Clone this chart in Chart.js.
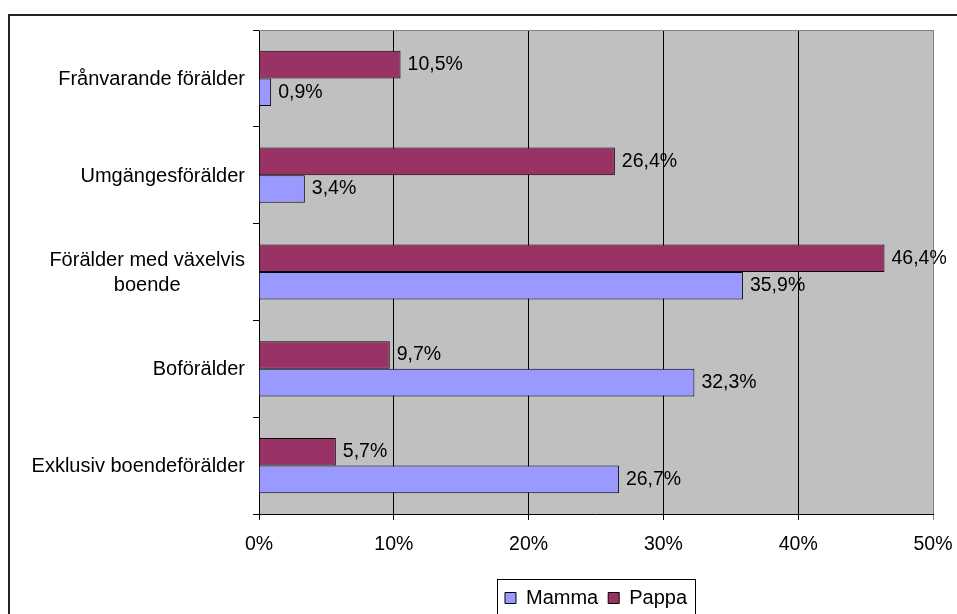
<!DOCTYPE html>
<html>
<head>
<meta charset="utf-8">
<script src="https://cdn.jsdelivr.net/npm/chart.js@4/dist/chart.umd.min.js"></script>
<style>
  html, body { margin: 0; padding: 0; background: #fff; }
  #wrap { width: 957px; height: 614px; position: relative; }
</style>
</head>
<body>
<div id="wrap"><canvas id="chart"></canvas></div>
<script>
// categories, top to bottom
const categories = [
  ['Frånvarande förälder'],
  ['Umgängesförälder'],
  ['Förälder med växelvis', 'boende'],
  ['Boförälder'],
  ['Exklusiv boendeförälder']
];
const pappaValues = [10.5, 26.4, 46.4, 9.7, 5.7];
const mammaValues = [0.9, 3.4, 35.9, 32.3, 26.7];
const xTicks = [0, 10, 20, 30, 40, 50];

const FONT = '"Liberation Sans", Arial, sans-serif';
const fmt = v => v.toFixed(1).replace('.', ',') + '%';

// gray plot area, its frame, the outer chart frame and the legend frame
const framePlugin = {
  id: 'frames',
  beforeDraw(chart) {
    const { ctx, chartArea: a } = chart;
    ctx.save();
    ctx.fillStyle = '#C0C0C0';
    ctx.fillRect(a.left, a.top, a.right - a.left, a.bottom - a.top);
    ctx.restore();
  },
  beforeDatasetsDraw(chart) {
    const { ctx, chartArea: a } = chart;
    ctx.save();
    ctx.strokeStyle = '#808080';
    ctx.lineWidth = 1;
    ctx.beginPath();
    ctx.moveTo(a.left, Math.round(a.top) + 0.5);
    ctx.lineTo(Math.round(a.right) + 0.5, Math.round(a.top) + 0.5);
    ctx.lineTo(Math.round(a.right) + 0.5, a.bottom);
    ctx.stroke();
    ctx.restore();
  },
  afterDraw(chart) {
    const ctx = chart.ctx;
    ctx.save();
    ctx.strokeStyle = '#222';
    ctx.lineWidth = 2;
    ctx.strokeRect(9, 15, 1200, 1200);
    const boxes = chart.legend.legendHitBoxes;
    if (boxes && boxes.length) {
      const left = Math.min(...boxes.map(b => b.left)) - 8;
      const right = Math.max(...boxes.map(b => b.left + b.width)) + 8;
      const top = boxes[0].top + boxes[0].height / 2 - 19;
      ctx.strokeStyle = '#000';
      ctx.lineWidth = 1;
      ctx.strokeRect(Math.round(left) + 0.5, Math.round(top) + 0.5, Math.round(right - left), 100);
    }
    ctx.restore();
  }
};

// category labels: right-aligned block, lines centred inside it
const yLabelPlugin = {
  id: 'yLabels',
  afterDraw(chart) {
    const { ctx } = chart;
    const y = chart.scales.y;
    const right = chart.chartArea.left - 14;
    ctx.save();
    ctx.font = '20px ' + FONT;
    ctx.fillStyle = '#000';
    ctx.textAlign = 'center';
    ctx.textBaseline = 'middle';
    categories.forEach((lines, i) => {
      const cy = y.getPixelForValue(i);
      const w = Math.max(...lines.map(l => ctx.measureText(l).width));
      const cx = right - w / 2;
      lines.forEach((l, j) => {
        ctx.fillText(l, cx, cy + 1 + (j - (lines.length - 1) / 2) * 25);
      });
    });
    ctx.restore();
  }
};

// value labels at the end of each bar
const valueLabelPlugin = {
  id: 'valueLabels',
  afterDatasetsDraw(chart) {
    const { ctx } = chart;
    ctx.save();
    ctx.font = '19.5px ' + FONT;
    ctx.fillStyle = '#000';
    ctx.textAlign = 'left';
    ctx.textBaseline = 'middle';
    chart.data.datasets.forEach((ds, di) => {
      chart.getDatasetMeta(di).data.forEach((el, i) => {
        ctx.fillText(fmt(ds.data[i]), el.x + 7, el.y);
      });
    });
    ctx.restore();
  }
};

Chart.defaults.font.family = FONT;
Chart.defaults.font.size = 20;
Chart.defaults.color = '#000';

new Chart(document.getElementById('chart'), {
  type: 'bar',
  data: {
    labels: categories.map(c => c.join(' ')),
    datasets: [
      {
        label: 'Pappa',
        data: pappaValues,
        backgroundColor: '#993366',
        borderColor: '#000',
        borderWidth: 1,
        categoryPercentage: 0.57,
        barPercentage: 1
      },
      {
        label: 'Mamma',
        data: mammaValues,
        backgroundColor: '#9999FF',
        borderColor: '#000',
        borderWidth: 1,
        categoryPercentage: 0.57,
        barPercentage: 1
      }
    ]
  },
  options: {
    indexAxis: 'y',
    responsive: true,
    maintainAspectRatio: false,
    animation: false,
    devicePixelRatio: 1,
    layout: { padding: { top: 30, right: 24, left: 0, bottom: -4 } },
    scales: {
      x: {
        min: 0,
        max: 50,
        afterBuildTicks: s => { s.ticks = xTicks.map(v => ({ value: v })); },
        afterFit: s => { s.height = 64; s.paddingLeft = 0; s.paddingRight = 0; },
        ticks: { callback: v => v + '%', padding: 13, maxRotation: 0, font: { size: 19.5 } },
        grid: {
          color: c => (c.tick && c.tick.value === 50 ? '#808080' : '#000'),
          lineWidth: 1,
          tickLength: 6
        },
        border: { color: '#000' }
      },
      y: {
        afterFit: s => { s.width = 259; },
        ticks: { display: false },
        grid: { drawOnChartArea: false, drawTicks: true, tickLength: 6, color: '#000' },
        border: { color: '#000' }
      }
    },
    plugins: {
      legend: {
        position: 'bottom',
        fullSize: false,
        reverse: true,
        labels: {
          boxWidth: 11,
          boxHeight: 11,
          padding: 10,
          color: '#000',
          font: { size: 20 }
        }
      },
      tooltip: { enabled: false }
    }
  },
  plugins: [framePlugin, yLabelPlugin, valueLabelPlugin]
});
</script>
</body>
</html>
